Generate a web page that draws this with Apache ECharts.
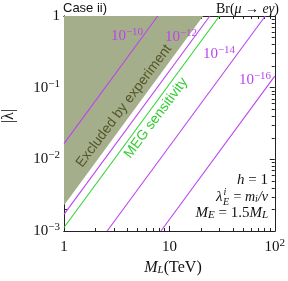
<!DOCTYPE html>
<html><head><meta charset="utf-8">
<script src="https://cdn.jsdelivr.net/npm/echarts@6/dist/echarts.min.js"></script>
<style>html,body{margin:0;padding:0;background:#fff}#c{width:288px;height:281px}</style>
</head><body><div id="c"></div>
<script>
// ---- data ----
const xMajorTicks = [1, 10, 100];
const xMinorTicks = [2, 3, 4, 5, 6, 7, 8, 9, 20, 30, 40, 50, 60, 70, 80, 90];
const yMajorTicks = [0.001, 0.01, 0.1, 1];
const yMinorTicks = [0.002, 0.003, 0.004, 0.005, 0.006, 0.007, 0.008, 0.009,
                     0.02, 0.03, 0.04, 0.05, 0.06, 0.07, 0.08, 0.09,
                     0.2, 0.3, 0.4, 0.5, 0.6, 0.7, 0.8, 0.9];
// contour lines [M_L (TeV), |lambda|]
const br10 = [[1, 0.0166], [7.76, 1]];
const br12 = [[1, 0.00171], [24.2, 1]];
const megSensitivity = [[1, 0.00112], [29.9, 1]];
const br14 = [[2.57, 0.001], [81.3, 1]];
const br16 = [[8.32, 0.001], [100, 0.145]];
// excluded region polygon
const excluded = [[1, 0.00229], [20.9, 1], [1, 1]];

const PURPLE = '#bb44ee', GREEN = '#33d433', SHADE = '#a4ae8b';
const SERIF = 'Liberation Serif';
const SANS = 'Liberation Sans';

const chart = echarts.init(document.getElementById('c'), null, {renderer: 'canvas'});

// rich styles for axis labels (echarts option level -> color)
function supRich(color, size) {
  return {
    n: {fontFamily: SERIF, fontSize: size, color: color, lineHeight: size + 4},
    s: {fontFamily: SERIF, fontSize: Math.round(size * 0.7), color: color, verticalAlign: 'top', lineHeight: Math.round(size * 0.7)}
  };
}
// rich styles for graphic texts (zrender level -> fill)
function supRichG(color, size) {
  return {
    n: {fontFamily: SERIF, fontSize: size, fill: color, lineHeight: size + 4},
    s: {fontFamily: SERIF, fontSize: Math.round(size * 0.7), fill: color, verticalAlign: 'top', lineHeight: Math.round(size * 0.7)}
  };
}
function mathRich(size, subSize) {
  return {
    r: {fontFamily: SERIF, fontSize: size, fill: '#111'},
    i: {fontFamily: SERIF, fontSize: size, fontStyle: 'italic', fill: '#111'},
    sub: {fontFamily: SERIF, fontSize: subSize, fontStyle: 'italic', fill: '#111', verticalAlign: 'bottom', lineHeight: subSize}
  };
}
function pow10Label(v) {
  const e = Math.round(Math.log10(v));
  if (e === 0) return '{n|1}';
  if (e === 1) return '{n|10}';
  return '{n|10}{s|' + String(e).replace('-', '\u2212') + '}';
}

const axisLineStyle = {color: '#222', width: 1};
function xAx(pos, ticks, len, labels) {
  return {
    type: 'log', logBase: 10, min: 1, max: 100, position: pos, gridIndex: 0,
    axisLine: {show: true, onZero: false, lineStyle: axisLineStyle},
    axisTick: {show: true, inside: true, length: len, customValues: ticks, lineStyle: {color: '#222'}},
    axisLabel: labels ? {show: true, customValues: xMajorTicks, margin: 7, formatter: pow10Label, rich: supRich('#111', 15)} : {show: false},
    splitLine: {show: false}, minorTick: {show: false}
  };
}
function yAx(pos, ticks, len, labels) {
  return {
    type: 'log', logBase: 10, min: 0.001, max: 1, position: pos, gridIndex: 0,
    axisLine: {show: true, onZero: false, lineStyle: axisLineStyle},
    axisTick: {show: true, inside: true, length: len, customValues: ticks, lineStyle: {color: '#222'}},
    axisLabel: labels ? {show: true, customValues: yMajorTicks, margin: 4, formatter: pow10Label, rich: supRich('#111', 15)} : {show: false},
    splitLine: {show: false}, minorTick: {show: false}
  };
}

function lineSeries(name, data, color) {
  return {
    name: name, type: 'line', data: data, xAxisIndex: 0, yAxisIndex: 0,
    showSymbol: false, symbol: 'none', clip: true, silent: true, z: 3,
    lineStyle: {color: color, width: 1.1}
  };
}

function txt(x, y, text, rich, opts) {
  opts = opts || {};
  const style = {text: text, align: opts.align || 'center', verticalAlign: opts.valign || 'middle'};
  if (rich) style.rich = rich;
  if (opts.font) { style.font = opts.font; style.fill = opts.fill; }
  return {type: 'text', x: x, y: y, rotation: opts.rotation || 0, z: 10, silent: true, style: style};
}

const ang = Math.atan(2 * (215 / 3) / (215 / 2));

const option = {
  animation: false,
  backgroundColor: '#fff',
  grid: {left: 64, top: 16, right: 9, bottom: 50, containLabel: false},
  xAxis: [
    xAx('bottom', xMajorTicks, 5, true),
    xAx('bottom', xMinorTicks, 3, false),
    xAx('top', xMajorTicks, 5, false),
    xAx('top', xMinorTicks, 3, false)
  ],
  yAxis: [
    yAx('left', yMajorTicks, 5, true),
    yAx('left', yMinorTicks, 3, false),
    yAx('right', yMajorTicks, 5, false),
    yAx('right', yMinorTicks, 3, false)
  ],
  series: [
    {
      type: 'custom', xAxisIndex: 0, yAxisIndex: 0, silent: true, z: 1,
      data: [0],
      renderItem: function (params, api) {
        const pts = excluded.map(function (p) { return api.coord(p); });
        return {type: 'polygon', shape: {points: pts}, style: {fill: SHADE, stroke: null}};
      }
    },
    lineSeries('1e-10', br10, PURPLE),
    lineSeries('1e-12', br12, PURPLE),
    lineSeries('MEG', megSensitivity, GREEN),
    lineSeries('1e-14', br14, PURPLE),
    lineSeries('1e-16', br16, PURPLE)
  ],
  graphic: [
    txt(63, 2, 'Case ii)', null, {align: 'left', valign: 'top', font: '13px ' + SANS, fill: '#111'}),
    txt(279, 9, '{r|Br(}{i|\u03bc}{r| \u2192 }{i|e\u03b3}{r|)}', mathRich(14, 10), {align: 'right'}),
    txt(127, 36, '{n|10}{s|\u221210}', supRichG(PURPLE, 15)),
    txt(181, 37, '{n|10}{s|\u221212}', supRichG(PURPLE, 15)),
    txt(219, 54, '{n|10}{s|\u221214}', supRichG(PURPLE, 15)),
    txt(255, 80, '{n|10}{s|\u221216}', supRichG(PURPLE, 15)),
    txt(124, 106, 'Excluded by experiment', null, {rotation: ang, font: '14px ' + SANS, fill: '#55552a'}),
    txt(156, 118, 'MEG sensitivity', null, {rotation: ang, font: '14px ' + SANS, fill: '#33cc33'}),
    txt(268, 180, '{i|h}{r| = 1}', mathRich(15, 11), {align: 'right'}),
    txt(216, 197, '\u03bb', null, {align: 'left', font: 'italic 15px ' + SERIF, fill: '#111'}),
    txt(223.5, 192, 'i', null, {align: 'left', font: 'italic 10px ' + SERIF, fill: '#111'}),
    txt(223, 202, 'E', null, {align: 'left', font: 'italic 10px ' + SERIF, fill: '#111'}),
    txt(268, 197, '{r|= }{i|m}{sub|i}{i|/v}', mathRich(14, 10), {align: 'right'}),
    txt(268, 213, '{i|M}{sub|E}{r| = 1.5}{i|M}{sub|L}', mathRich(15, 11), {align: 'right'}),
    txt(173, 268, '{i|M}{sub|L}{r|(TeV)}', mathRich(16, 11)),
    txt(9, 116, '|\u03bb|', null, {rotation: Math.PI / 2, font: '16px ' + SERIF, fill: '#111'})
  ]
};
chart.setOption(option);
</script>
</body></html>
